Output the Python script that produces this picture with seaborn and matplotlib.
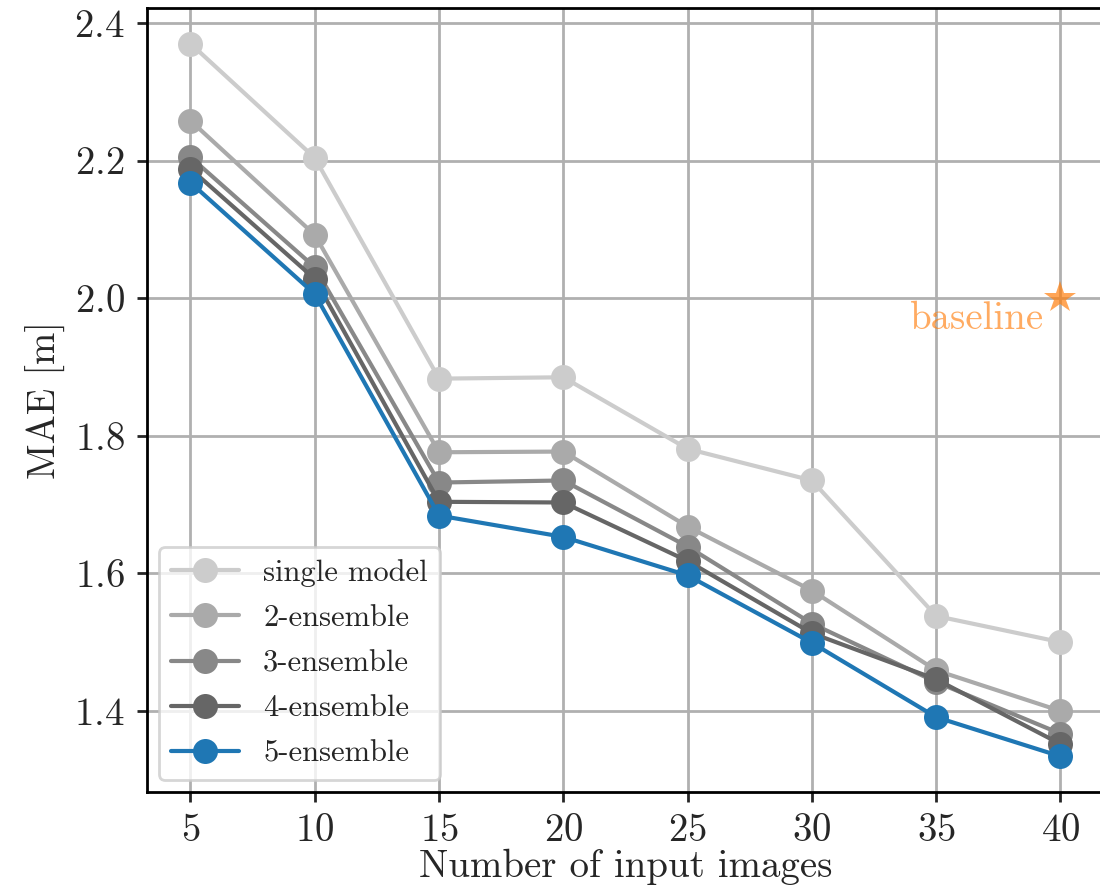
import numpy as np
import pandas as pd
import seaborn as sns
from matplotlib import pyplot as plt

n_images = [5, 10, 15, 20, 25, 30, 35, 40]

single_model = [2.370, 2.204, 1.883, 1.885, 1.781, 1.735, 1.538, 1.500]
ens_2 = [2.258, 2.092, 1.776, 1.777, 1.668, 1.575, 1.459, 1.400]
ens_3 = [2.205, 2.045, 1.732, 1.735, 1.639, 1.527, 1.442, 1.367]
ens_4 = [2.188, 2.028, 1.704, 1.703, 1.618, 1.513, 1.446, 1.352]
ens_5 = [2.168, 2.006, 1.684, 1.653, 1.597, 1.499, 1.391, 1.334]

labels = ['single model', '2-ensemble', '3-ensemble', '4-ensemble', '5-ensemble']
colors = ['#cccccc', '#aaaaaa', '#888888', '#666666', '#1f77b4']

baseline_x = 40
baseline_mae = 2.0

sns.set_style('ticks', {'axes.grid': True, 'grid.color': '#b0b0b0',
                        'axes.edgecolor': 'black'})
plt.rcParams['font.family'] = 'serif'
plt.rcParams['font.serif'] = ['cmr10', 'DejaVu Serif']
plt.rcParams['mathtext.fontset'] = 'cm'
plt.rcParams['axes.unicode_minus'] = False
plt.rcParams['axes.formatter.use_mathtext'] = True

fig = plt.figure(figsize=(5.5, 4.465), dpi=200)
ax = fig.add_axes([0.1336, 0.1131, 0.870, 0.878])

series = [single_model, ens_2, ens_3, ens_4, ens_5]
for vals, lab, col in zip(series, labels, colors):
    sns.lineplot(x=n_images, y=vals, ax=ax, label=lab, color=col,
                 marker='o', markersize=9, markeredgewidth=0, linewidth=1.5)

ax.plot(baseline_x, baseline_mae, marker='*', markersize=12, color='#ff7f0e',
        alpha=0.7, markeredgewidth=0, linestyle='none')
ax.annotate('baseline', (baseline_x, baseline_mae), xytext=(-6, -1),
            textcoords='offset points', ha='right', va='top',
            color='#ff7f0e', alpha=0.65, fontsize=14)

ax.set_xlim(3.25, 41.75)
ax.set_xticks(n_images)
ax.set_yticks([1.4, 1.6, 1.8, 2.0, 2.2, 2.4])
ax.tick_params(labelsize=14, width=1, length=3.5)
ax.tick_params(axis='x', pad=4)
ax.tick_params(axis='y', pad=4.5)
for s in ax.spines.values():
    s.set_linewidth(1.0)
ax.grid(True, linewidth=1.0)
ax.set_xlabel('Number of input images', fontsize=14, labelpad=0)
ax.set_ylabel('MAE [m]', fontsize=14, labelpad=3)
ax.legend(loc='lower left', fontsize=11, labelspacing=0.58,
          handlelength=2.2, borderaxespad=0.4)

plt.savefig('out.png', dpi=200)
